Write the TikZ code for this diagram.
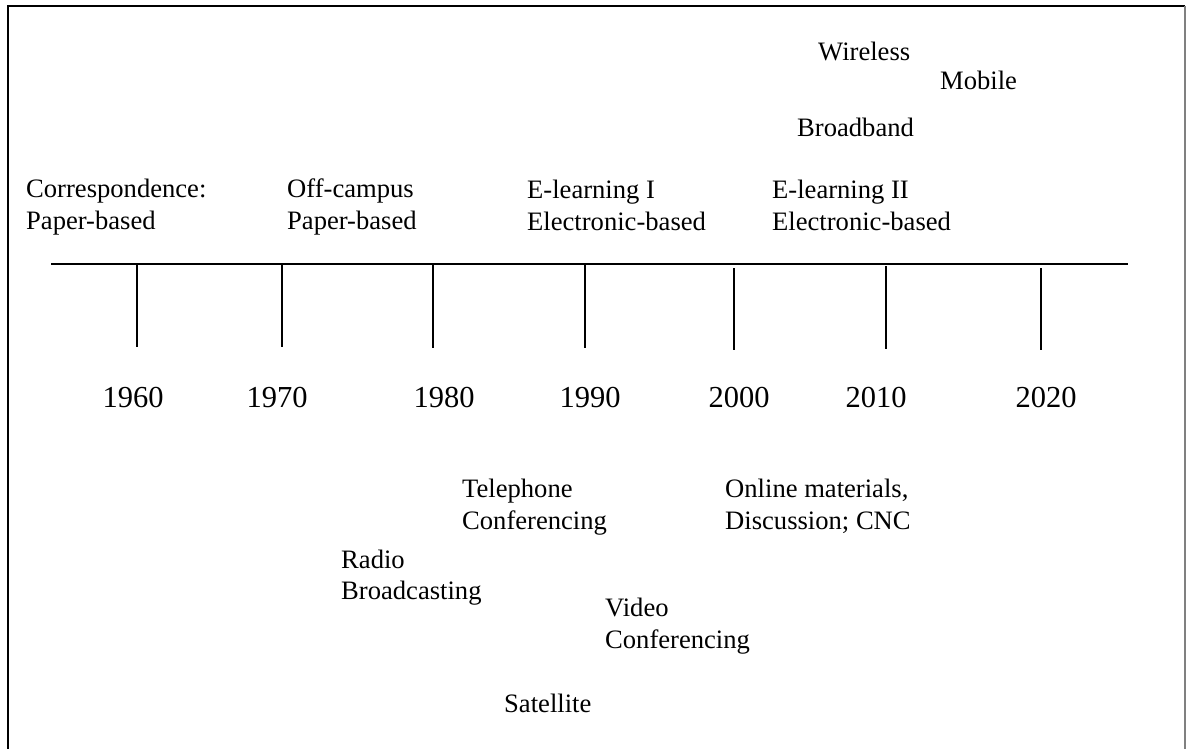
\documentclass[tikz,border=0pt]{standalone}
\usepackage{fontspec}
\setmainfont{Liberation Serif}
\begin{document}
\begin{tikzpicture}[x=1pt,y=-1pt,
  lbl/.style={anchor=base west,inner sep=0pt,font=\fontsize{26.6}{32}\selectfont},
  yr/.style={anchor=base,inner sep=0pt,font=\fontsize{30.5}{36}\selectfont},
  frameline/.style={line width=2.4pt,black},
  axis/.style={line width=2pt,black},
  tick/.style={line width=1.5pt,black}]
\useasboundingbox (0,0) rectangle (1186,749);
% frame (open at bottom)
\draw[frameline] (8,749) -- (8,6) -- (1185,6);
\draw[line width=1.5pt,gray] (1185,6) -- (1185,749);
% axis
\coordinate (axL) at (51,264);
\coordinate (axR) at (1128,264);
\draw[axis] (axL) -- (axR);
% ticks
\foreach \n/\x/\t/\b in {a/137/264/347,b/282/264/347,c/433/264/348,d/585/264/348,e/734/268/350,f/886/266/349,g/1041/268/350}{
  \coordinate (t\n) at (\x,\t);
  \coordinate (b\n) at (\x,\b);
  \draw[tick] (t\n) -- (b\n);
}
% years
\node[yr] (y1960) at (133,407) {1960};
\node[yr] (y1970) at (277,407) {1970};
\node[yr] (y1980) at (444,407) {1980};
\node[yr] (y1990) at (590,407) {1990};
\node[yr] (y2000) at (739,407) {2000};
\node[yr] (y2010) at (876,407) {2010};
\node[yr] (y2020) at (1046,407) {2020};
% upper labels
\node[lbl] (corrA) at (26,197) {Correspondence:};
\node[lbl] (corrB) at (26,229) {Paper-based};
\node[lbl] (offA) at (287,197) {Off-campus};
\node[lbl] (offB) at (287,229) {Paper-based};
\node[lbl] (eoneA) at (527,198) {E-learning I};
\node[lbl] (eoneB) at (527,230) {Electronic-based};
\node[lbl] (etwoA) at (772,198) {E-learning II};
\node[lbl] (etwoB) at (772,230) {Electronic-based};
\node[lbl] (wire) at (818,61) {Wireless};
\node[lbl] (mob) at (940,90) {Mobile};
\node[lbl] (broad) at (797,137) {Broadband};
% lower labels
\node[lbl] (telA) at (462,497) {Telephone};
\node[lbl] (telB) at (462,529) {Conferencing};
\node[lbl] (radA) at (341,568) {Radio};
\node[lbl] (radB) at (341,599) {Broadcasting};
\node[lbl] (vidA) at (605,616) {Video};
\node[lbl] (vidB) at (605,648) {Conferencing};
\node[lbl] (sat) at (504,712) {Satellite};
\node[lbl] (onlA) at (725,497) {Online materials,};
\node[lbl] (onlB) at (725,529) {Discussion; CNC};
\end{tikzpicture}
\end{document}
